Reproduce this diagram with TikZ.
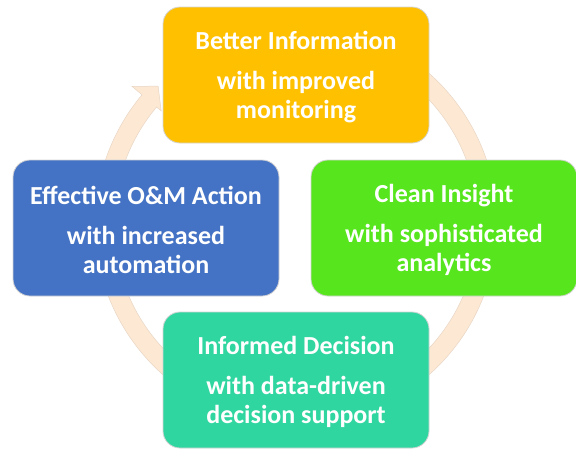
\documentclass[tikz,border=0pt]{standalone}
\usepackage{fontspec}
\setmainfont{Carlito}
\usetikzlibrary{calc}
\definecolor{cTop}{HTML}{FFC000}
\definecolor{cLeft}{HTML}{4472C4}
\definecolor{cRight}{HTML}{57E61D}
\definecolor{cBottom}{HTML}{30D6A0}
\definecolor{cBand}{HTML}{FDE8D3}
\definecolor{cBandEdge}{HTML}{E8D6C4}
\definecolor{cEdge}{HTML}{D4D4D4}
\tikzset{
  card/.style={draw=cEdge, line width=0.8pt, rounded corners=17pt,
    minimum width=266pt, minimum height=136pt, inner sep=0pt},
  cardtext/.style={text=white, align=center, inner sep=0pt,
    font=\fontsize{26}{29}\selectfont\bfseries},
  band/.style={fill=cBand, draw=cBandEdge, line width=0.5pt}
}
\begin{document}
\begin{tikzpicture}[x=1pt,y=-1pt]
\useasboundingbox (0,0) rectangle (576,448);
\coordinate (c) at (296,224);
% circular arrow
\path[band] ($(c)+(-80:201)$) arc[start angle=-80, end angle=220, radius=201]
  -- ($(c)+(220:214)$) -- ($(c)+(225:195)$) -- ($(c)+(220:176)$)
  -- ($(c)+(220:182)$) arc[start angle=220, end angle=-80, radius=182] -- cycle;
% boxes
\node[card, fill=cTop] (top) at (296,75) {};
\node[card, fill=cRight] (right) at (444,228) {};
\node[card, fill=cBottom] (bottom) at (296,380) {};
\node[card, fill=cLeft] (left) at (146,228) {};
% texts
\node[cardtext] (topt) at ($(top.center)+(0,2)$)
  {Better Information\\[11pt]with improved\\monitoring};
\node[cardtext] (rightt) at ($(right.center)+(0,2)$)
  {Clean Insight\\[11pt]with sophisticated\\analytics};
\node[cardtext] (bottomt) at ($(bottom.center)+(0,2)$)
  {Informed Decision\\[11pt]with data-driven\\decision support};
\node[cardtext] (leftt) at ($(left.center)+(0,2)$)
  {Effective O\&M Action\\[11pt]with increased\\automation};
\end{tikzpicture}
\end{document}
